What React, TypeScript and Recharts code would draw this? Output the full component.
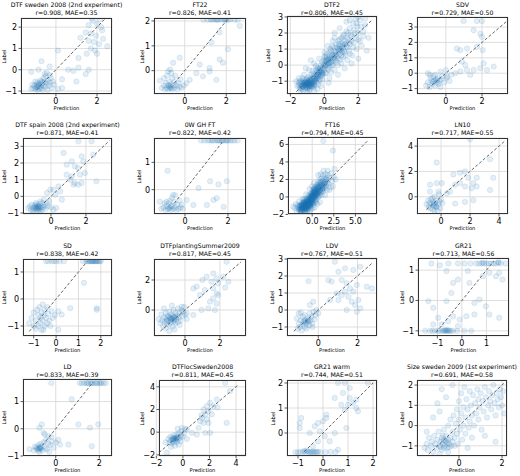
import React from "react"
import {
  ScatterChart,
  Scatter,
  XAxis,
  YAxis,
  CartesianGrid,
  ReferenceLine,
} from "recharts"

type Pt = [number, number]

const titles = [
  "DTF sweden 2008 (2nd experiment)", "FT22", "DTF2", "SDV",
  "DTF spain 2008 (2nd experiment)", "0W GH FT", "FT16", "LN10",
  "SD", "DTFplantingSummer2009", "LDV", "GR21",
  "LD", "DTFlocSweden2008", "GR21 warm", "Size sweden 2009 (1st experiment)",
]

const stats = [
  "r=0.908, MAE=0.35", "r=0.826, MAE=0.41", "r=0.806, MAE=0.45", "r=0.729, MAE=0.50",
  "r=0.871, MAE=0.41", "r=0.822, MAE=0.42", "r=0.794, MAE=0.45", "r=0.717, MAE=0.55",
  "r=0.838, MAE=0.42", "r=0.817, MAE=0.45", "r=0.767, MAE=0.51", "r=0.713, MAE=0.56",
  "r=0.833, MAE=0.39", "r=0.811, MAE=0.45", "r=0.744, MAE=0.51", "r=0.691, MAE=0.58",
]

const xDomains: Pt[] = [
  [-1.7, 2.73], [-1.48, 2.95], [-2.2, 3.1], [-1.6, 3.44],
  [-1.6, 3.49], [-1.44, 2.84], [-2.8, 7.5], [-1.66, 4.62],
  [-1.48, 2.5], [-1.77, 3.49], [-1.6, 3.0], [-1.79, 1.92],
  [-1.5, 2.58], [-1.8, 4.75], [-1.44, 2.16], [-1.95, 2.23],
]

const yDomains: Pt[] = [
  [-1.14, 2.43], [-0.94, 2.12], [-1.8, 3.06], [-1.35, 3.65],
  [-1.06, 3.5], [-0.89, 1.89], [-1.95, 6.85], [-1.36, 4.64],
  [-1.37, 1.48], [-1.73, 3.4], [-1.53, 3.06], [-1.17, 1.4],
  [-1.0, 1.83], [-2.1, 4.6], [-0.92, 2.12], [-1.5, 2.25],
]

const xTicks = [
  [0, 2], [0, 2], [-2, 0, 2], [0, 2],
  [0, 2], [0, 2], [0, 2.5, 5], [0, 2, 4],
  [-1, 0, 1, 2], [0, 2], [0, 2], [-1, 0, 1],
  [0, 2], [-2, 0, 2, 4], [-1, 0, 1, 2], [0, 2],
]

const yTicks = [
  [-1, 0, 1, 2], [0, 1, 2], [-1, 0, 1, 2, 3], [-1, 0, 1, 2, 3],
  [-1, 0, 1, 2, 3], [0, 1], [-2, 0, 2, 4, 6], [0, 2, 4],
  [-1, 0, 1], [0, 2], [-1, 0, 1, 2, 3], [-1, 0, 1],
  [-1, 0, 1], [-2, 0, 2, 4], [0, 1, 2], [-1, 0, 1, 2],
]

// dashed identity line, from..to
const diagonals: Pt[] = [
  [-0.95, 2.4], [-0.5, 2.05], [-1.65, 2.85], [-1.0, 3.4],
  [-0.4, 3.35], [-0.5, 1.8], [-1.6, 6.5], [-1.0, 4.4],
  [-1.2, 1.4], [-1.4, 3.2], [-1.25, 2.75], [-1.05, 1.3],
  [-0.6, 1.72], [-1.8, 4.15], [-0.75, 2.0], [-1.4, 2.1],
]

const dtfSweden2008: Pt[] = [
  [-1.2, -0.9], [-1.1, -0.85], [-1.05, -0.75], [-1, -0.9], [-0.95, -0.7], [-0.9, -0.8], [-0.9, -0.6],
  [-0.85, -0.75], [-0.8, -0.65], [-0.8, -0.9], [-0.75, -0.5], [-0.7, -0.7], [-0.7, -0.85], [-0.65, -0.6],
  [-0.6, -0.75], [-0.6, -0.4], [-0.55, -0.55], [-0.5, -0.8], [-0.5, -0.3], [-0.45, -0.65], [-0.4, -0.5],
  [-0.35, -0.75], [-0.3, -0.6], [-0.25, -0.4], [-0.2, -0.85], [-0.15, -0.55], [-1.15, -0.7], [-1.0, -0.55],
  [-0.9, -0.95], [-0.65, -0.95], [-0.55, -0.2], [-0.4, -0.95], [-0.3, -0.25], [-0.1, -0.7], [0.1, -0.9],
  [-0.85, -0.7], [-0.75, -0.8], [-0.95, -0.85], [-0.7, -0.55],
  [-1.2, -0.1], [-0.85, 0], [-0.7, 0.4], [-0.45, -0.15], [-0.3, 0.15], [0.1, 0.9], [0.3, -0.85],
  [0.3, -0.45], [0.6, 0], [0.85, -0.05], [1.0, -0.55], [1.1, 0.1], [1.1, 0.55], [1.45, -0.2], [1.6, 0],
  [1.2, 1.5], [1.45, 1.75], [1.5, 0.75], [1.6, 2.1], [1.6, 1.35], [1.7, 1.0], [1.75, 2.4], [1.7, 1.7],
  [1.85, 1.3], [1.9, 0.9], [2.0, 2.15], [2.0, 0.75], [2.1, 1.2], [2.15, 2.37], [2.25, 1.85], [2.3, 1.45],
  [2.5, 1.1], [1.95, 1.6], [2.2, 2.0], [1.8, 2.3],
]

const ft22: Pt[] = [
  [0.9, 2.05], [1.1, 2.05], [1.3, 2.07], [1.4, 2.05], [1.5, 2.07], [1.6, 2.05], [1.7, 2.07], [1.8, 2.05],
  [1.9, 2.07], [2.0, 2.05], [2.1, 2.05], [2.2, 2.07], [2.4, 2.05], [2.55, 2.05], [1.25, 2.05], [1.55, 2.05],
  [1.95, 2.05], [2.65, 1.8],
  [1.68, 1.55], [1.28, 1.14], [2.08, 0.86], [1.68, 0.45], [1.84, 0.32], [1.2, 0.11], [1.2, -0.03],
  [-0.24, 0.52], [0.72, 0.25], [0.56, -0.1], [0.88, -0.23], [1.52, -0.37], [0.08, -0.51], [0.24, -0.37],
  [-0.56, 0.32], [-0.8, -0.03],
  [-1.2, -0.4], [-1.1, -0.7], [-1.0, -0.6], [-0.95, -0.75], [-0.9, -0.5], [-0.85, -0.7], [-0.8, -0.6],
  [-0.8, -0.75], [-0.75, -0.45], [-0.7, -0.65], [-0.7, -0.7], [-0.65, -0.55], [-0.6, -0.75], [-0.6, -0.3],
  [-0.55, -0.6], [-0.5, -0.7], [-0.5, -0.45], [-0.45, -0.2], [-0.4, -0.6], [-0.35, -0.75], [-0.3, -0.5],
  [-0.25, -0.65], [-0.2, -0.35], [-0.15, -0.7], [-0.05, -0.6], [-1.0, -0.3], [-0.85, -0.2], [-0.65, -0.1],
  [-0.7, 0.05], [-0.75, -0.6], [-0.65, -0.7],
]

const dtf2: Pt[] = [
  [-1.6, -1.3], [-1.5, -1.1], [-1.45, -1.4], [-1.4, -1.2], [-1.35, -1.0], [-1.3, -1.5], [-1.3, -1.25],
  [-1.25, -1.1], [-1.2, -1.35], [-1.2, -0.9], [-1.15, -1.2], [-1.1, -1.45], [-1.1, -1.05], [-1.05, -1.3],
  [-1.0, -1.15], [-1.0, -0.8], [-0.95, -1.4], [-0.95, -1.0], [-0.9, -1.25], [-0.9, -0.7], [-0.85, -1.1],
  [-0.85, -1.5], [-0.8, -0.9], [-0.8, -1.3], [-0.75, -1.05], [-0.75, -0.6], [-0.7, -1.2], [-0.7, -0.8],
  [-0.65, -1.4], [-0.65, -0.95], [-0.6, -1.1], [-0.6, -0.5], [-0.55, -0.75], [-0.55, -1.25], [-0.5, -0.9],
  [-0.5, -0.3], [-0.45, -1.05], [-0.45, -0.6], [-0.4, -0.4], [-0.4, -0.8], [-0.35, -1.2], [-0.35, -0.2],
  [-0.3, -0.6], [-0.3, -0.95], [-0.25, -0.35], [-0.2, -0.7], [-0.2, 0.0], [-0.15, -0.45], [-0.1, -0.15],
  [-0.1, -0.9], [-0.05, 0.1], [0.0, -0.3], [0.0, 0.3], [0.05, -0.05], [0.1, 0.2], [0.1, -0.5],
  [0.15, 0.45], [0.2, 0.05], [0.2, -0.2], [0.25, 0.3], [0.3, 0.6], [0.3, -0.1], [0.35, 0.15], [0.4, 0.4],
  [0.4, 0.9], [0.45, 0.0], [0.5, 0.25], [0.5, 0.65], [0.55, 1.1], [0.6, 0.4], [0.6, -0.3], [0.65, 0.8],
  [0.7, 0.2], [0.7, 1.3], [0.75, 0.55], [0.8, 1.0], [0.8, 0.0], [0.85, 1.5], [0.9, 0.7], [0.9, 1.2],
  [0.95, 0.35], [1.0, 1.7], [1.0, 0.9], [1.05, 1.35], [1.1, 0.5], [1.1, 1.1], [1.15, 1.9], [1.2, 0.8],
  [1.2, 1.5], [1.3, 1.2], [1.3, 2.1], [1.35, 0.3], [1.4, 1.6], [1.45, 0.9], [1.5, 2.3], [1.5, 1.3],
  [1.6, 1.8], [1.65, 0.6], [1.7, 2.6], [1.75, 1.4], [1.8, 2.0], [1.9, 1.0], [1.95, 2.4], [2.0, 1.6],
  [2.1, 2.8], [2.2, 1.2], [2.3, 2.1], [2.5, 0.9], [1.85, 2.9], [2.0, 3.0], [1.3, 2.7], [0.9, 2.3],
  [0.6, 2.0], [0.5, 1.5], [0.2, 1.2], [0.0, 0.8], [-0.3, 0.4], [-0.6, 0.1], [-0.9, -0.3], [-1.2, -0.6],
  [-1.5, -0.8], [-1.4, -1.6], [-1.0, -1.7], [-0.6, -1.6], [-0.2, -1.3], [0.3, -0.8], [0.8, -0.6],
  [1.2, -0.2], [1.6, 0.1], [2.0, 0.4], [-1.65, -1.0], [-0.9, -1.6], [-0.4, -1.5], [0.25, -1.1],
  [-0.8, 0.3], [-1.1, -0.2], [0.6, 1.7], [1.5, 2.8], [2.4, 2.5], [2.6, 1.7], [-0.5, -0.05], [0.05, 0.55],
  [0.35, 1.0], [-0.25, -0.6], [-0.7, -0.35], [-1.3, -0.8], [-1.25, -1.6], [1.0, 0.1], [0.4, -0.45],
  [-1.15, -1.25], [-1.05, -1.15], [-0.95, -1.2], [-0.85, -1.3], [-1.2, -1.15], [-1.0, -1.35], [-0.9, -1.05],
  [-1.35, -1.3], [-0.75, -1.2], [-1.1, -1.1], [-0.6, -0.85], [-0.4, -0.6], [-0.2, -0.3], [0.0, 0.0],
  [0.15, 0.15], [-0.1, -0.5], [0.3, 0.35], [-0.3, -0.3], [0.6, 0.6], [0.9, 1.0], [1.2, 1.3],
  [-1.5, -1.25], [-1.45, -1.0], [-1.4, -1.45], [-1.3, -1.1], [-1.25, -1.35], [-1.15, -1.0], [-1.1, -1.25],
  [-1.05, -0.9], [-1.0, -1.45], [-0.95, -1.1], [-0.9, -0.9], [-0.85, -1.2], [-0.8, -1.0], [-0.75, -1.35],
  [-0.7, -1.0], [-0.65, -0.7], [-0.6, -1.25], [-0.55, -0.95], [-0.5, -0.6], [-0.45, -0.85], [-0.4, -0.2],
  [-0.35, -0.7], [-0.3, -0.45], [-0.25, -0.9], [-0.2, -0.4], [-0.15, 0.2], [-0.1, -0.6], [-0.05, -0.2],
  [0.0, 0.5], [0.05, -0.5], [0.1, 0.0], [0.15, 0.7], [0.2, 0.35], [0.25, -0.3], [0.3, 0.8], [0.35, 0.45],
  [0.4, 0.2], [0.45, 1.2], [0.5, 0.0], [0.55, 0.5], [0.6, 0.9], [0.65, 0.3], [0.7, 0.7], [0.75, 1.1],
  [0.8, 0.4], [0.85, 0.9], [0.9, 1.6], [0.95, 1.0], [1.0, 0.6], [1.05, 1.2], [1.1, 1.8], [1.15, 0.9],
  [1.2, 1.3], [1.25, 0.6], [1.3, 1.7], [1.35, 1.1], [1.4, 2.0], [1.45, 1.4], [1.5, 0.7], [1.55, 1.9],
  [1.6, 1.5], [1.7, 1.1], [1.75, 2.2], [1.8, 1.7], [1.9, 2.6], [2.0, 2.0], [2.1, 1.5], [2.2, 2.4],
  [2.3, 1.8], [2.4, 2.9],
  [-1.2, -1.25], [-1.1, -1.35], [-1.0, -1.05], [-0.9, -1.35], [-0.8, -1.15], [-0.7, -1.3], [-0.6, -1.0],
  [-1.3, -1.35], [-1.15, -1.1], [-0.95, -1.25], [-0.85, -0.95], [-0.75, -1.1], [-0.65, -1.2], [-0.55, -0.85],
  [-1.05, -1.2], [-0.45, -0.7], [-0.35, -0.5], [-0.25, -0.2], [-0.15, -0.55], [0.1, 0.3], [0.25, 0.1],
  [0.45, 0.6], [0.65, 0.6], [0.85, 1.3], [1.05, 0.8],
]

const sdv: Pt[] = [
  [1.72, 3.39], [2.0, 3.39], [0.98, 3.39], [1.54, 2.79], [1.91, 2.57], [2.0, 2.36], [1.72, 1.71],
  [2.04, 1.5], [0.61, 1.6], [0.8, 1.5], [1.17, 1.6], [0.89, 0.75], [1.07, 0.54], [1.17, 0.21],
  [1.54, 0.21], [1.91, 0.32], [2.28, 0.21], [2.65, 0.43], [2.09, 0.64], [1.35, -0.11], [0.8, 0.11],
  [0.52, 0.0], [0.06, -0.21],
  [-1.1, -0.8], [-1, -0.6], [-0.9, -0.9], [-0.85, -0.3], [-0.8, -0.5], [-0.75, -0.7], [-0.7, -0.2],
  [-0.65, -0.5], [-0.6, -0.8], [-0.55, -0.4], [-0.5, -0.6], [-0.45, -0.3], [-0.4, -0.7], [-0.35, -0.5],
  [-0.3, 0.1], [-0.3, -0.9], [-0.25, -0.4], [-0.2, -0.2], [-0.1, -0.6], [0.0, 0.2], [0.05, -0.3],
  [0.2, -0.5], [-1.0, 0.0], [-0.9, -0.1], [-0.6, -0.1], [0.3, -0.1], [-0.7, -0.55], [-0.5, -0.45],
]

const dtfSpain2008: Pt[] = [
  [1.57, 3.3], [2.32, 3.3], [0.72, 2.6], [1.19, 2.1], [1.75, 2.4], [1.85, 2.1], [2.42, 2.5], [0.9, 1.9],
  [1.36, 1.8], [1.55, 1.7], [1.94, 1.4], [0.9, 1.3], [1.19, 1.2], [1.66, 1.3], [2.6, 0.9], [1.28, 0.7],
  [1.36, 0.8], [1.55, 0.7], [1.75, 0.8], [1.1, 1.0], [0.62, -0.2], [0.53, 0.3], [0.43, 0.6], [0.15, 0.4],
  [-0.04, 0.4], [-0.23, 0.2], [0.25, 0.1],
  [-1.3, -0.7], [-1.2, -0.6], [-1.15, -0.8], [-1.1, -0.5], [-1.0, -0.7], [-1.0, -0.85], [-0.95, -0.6],
  [-0.9, -0.75], [-0.9, -0.5], [-0.85, -0.65], [-0.8, -0.8], [-0.8, -0.55], [-0.75, -0.7], [-0.7, -0.6],
  [-0.7, -0.85], [-0.65, -0.45], [-0.6, -0.7], [-0.6, -0.3], [-0.55, -0.6], [-0.5, -0.8], [-0.5, -0.4],
  [-0.45, -0.65], [-0.4, -0.2], [-0.35, -0.55], [-0.3, -0.75], [-0.25, -0.4], [-0.2, -0.6], [-0.1, -0.3],
  [0.0, -0.65], [0.15, -0.8], [0.3, -0.7], [-0.85, -0.4], [-0.6, -0.9], [-1.05, -0.9], [-0.75, -0.6],
  [-0.65, -0.65], [-0.85, -0.7], [-0.7, -0.75],
]

const ghFt0w: Pt[] = [
  [0.75, 1.8], [0.9, 1.8], [1.05, 1.8], [1.15, 1.8], [1.3, 1.8], [1.4, 1.8], [1.5, 1.8], [1.6, 1.8],
  [1.7, 1.8], [1.8, 1.8], [1.9, 1.8], [2.0, 1.8], [2.1, 1.8], [2.2, 1.8], [2.3, 1.8], [2.45, 1.8],
  [1.25, 1.8], [1.55, 1.8], [1.75, 1.8], [1.95, 1.8],
  [-0.81, 0.69], [1.95, 0.31], [1.17, 0.31], [1.56, 0.19], [0.63, 0.06], [1.48, -0.31], [1.33, -0.38],
  [1.8, -0.63], [1.02, -0.56], [0.39, -0.56], [0.08, -0.38], [-0.55, -0.19], [-0.86, -0.44], [-1.17, -0.44],
  [-1.1, -0.7], [-1.0, -0.65], [-0.9, -0.75], [-0.85, -0.6], [-0.8, -0.7], [-0.75, -0.5], [-0.7, -0.65],
  [-0.65, -0.75], [-0.6, -0.6], [-0.55, -0.7], [-0.5, -0.45], [-0.45, -0.65], [-0.4, -0.75], [-0.35, -0.55],
  [-0.3, -0.7], [-0.25, -0.4], [-0.2, -0.65], [-0.15, -0.55], [-0.1, -0.7], [-0.6, -0.3], [-0.45, -0.2],
  [-0.7, -0.4], [-0.95, -0.5], [-0.75, -0.7], [-0.65, -0.6],
]

const ft16: Pt[] = [
  [-1.6, -1.2], [-1.5, -1.5], [-1.45, -0.9], [-1.4, -1.3], [-1.35, -1.7], [-1.3, -1.0], [-1.25, -1.4],
  [-1.2, -0.7], [-1.2, -1.6], [-1.15, -1.1], [-1.1, -1.3], [-1.05, -0.8], [-1.0, -1.5], [-1.0, -1.0],
  [-0.95, -1.2], [-0.9, -0.5], [-0.9, -1.4], [-0.85, -0.9], [-0.8, -1.1], [-0.8, -1.7], [-0.75, -0.6],
  [-0.7, -1.3], [-0.7, -0.9], [-0.65, -1.0], [-0.6, -0.4], [-0.6, -1.5], [-0.55, -0.8], [-0.5, -1.1],
  [-0.5, -0.2], [-0.45, -0.6], [-0.4, -1.3], [-0.4, -0.9], [-0.35, -0.3], [-0.3, -0.7], [-0.3, 0.1],
  [-0.25, -1.0], [-0.2, -0.5], [-0.2, 0.3], [-0.15, -0.1], [-0.1, -0.8], [-0.1, 0.5], [-0.05, -0.3],
  [0.0, 0.2], [0.0, -0.6], [0.05, 0.8], [0.1, -0.1], [0.1, 0.4], [0.15, -0.9], [0.2, 0.6], [0.2, 0.0],
  [0.25, 1.0], [0.3, 0.3], [0.3, -0.4], [0.35, 0.7], [0.4, 1.2], [0.4, 0.1], [0.45, 0.5], [0.5, 0.9],
  [0.5, -0.2], [0.55, 1.4], [0.6, 0.4], [0.6, 0.7], [0.65, 1.1], [0.7, 0.0], [0.7, 1.6], [0.75, 0.6],
  [0.8, 1.0], [0.8, 1.9], [0.85, 0.3], [0.9, 1.3], [0.9, 0.8], [0.95, 1.7], [1.0, 0.5], [1.0, 1.1],
  [1.05, 2.1], [1.1, 1.4], [1.1, 0.2], [1.15, 0.9], [1.2, 1.8], [1.2, 1.2], [1.25, 2.4], [1.3, 0.7],
  [1.35, 1.5], [1.4, 2.0], [1.45, 1.0], [1.5, 1.7], [1.5, 2.6], [1.6, 1.3], [1.65, 2.2], [1.7, 0.8],
  [1.75, 1.9], [1.8, 2.5], [1.9, 1.5], [2.0, 2.2], [2.1, 1.1], [2.2, 2.7], [2.3, 1.8], [2.5, 2.3],
  [2.7, 2.0], [2.6, 3.2], [1.3, 3.0], [0.7, 2.5], [0.2, 1.6], [-0.3, 0.9], [-0.7, 0.3], [-1.1, -0.2],
  [-1.5, -0.5], [-0.3, -1.6], [0.3, -1.2], [0.9, -0.6], [1.5, 0.2], [2.0, 0.8], [1.28, 6.4], [2.4, 5.3],
  [-1.7, -1.0], [-0.6, -1.8], [0.6, -0.8], [-0.95, -0.3], [-0.45, 0.2], [0.05, -1.3], [1.8, 3.0],
  [2.4, 1.2], [-1.3, -1.9], [-0.8, -0.2], [-0.15, -1.4], [0.45, -0.6], [1.0, 2.6], [0.0, 1.2],
  [-2.0, -1.3], [-1.9, -0.8], [-1.8, -1.6], [-2.2, -1.1],
  [-1.0, -1.2], [-0.9, -1.0], [-0.8, -0.8], [-0.7, -1.1], [-0.6, -0.9], [-0.5, -0.7], [-0.4, -0.5],
  [-0.3, -0.3], [-0.2, -0.1], [-0.1, 0.1], [0.0, 0.3], [0.1, 0.5], [0.2, 0.7], [0.3, 0.9], [0.4, 0.6],
  [-1.2, -1.2], [-1.1, -0.9], [-0.9, -1.2], [-0.7, -0.7], [-0.5, -0.9], [-0.3, -0.5], [-0.1, -0.3],
  [0.1, 0.1], [0.3, 0.5], [0.5, 0.3], [-0.6, -1.2], [-0.8, -1.4], [-1.3, -1.3], [-1.4, -1.1],
  [-0.2, -0.8], [0.0, -0.1], [0.2, 0.3], [0.6, 1.0], [0.8, 0.7], [1.0, 1.4], [1.2, 1.0], [1.4, 1.6],
  [-0.9, -0.7], [-0.65, -0.45], [-0.35, -0.15], [-0.05, 0.05], [0.25, 0.45], [-1.05, -1.05], [-0.75, -1.25],
  [-1.3, -1.5], [-1.2, -1.0], [-1.1, -1.5], [-1.0, -1.3], [-0.9, -0.8], [-0.85, -1.6], [-0.75, -1.0],
  [-0.7, -0.5], [-0.65, -1.3], [-0.6, -0.7], [-0.55, -1.0], [-0.5, -0.4], [-0.45, -1.2], [-0.4, -0.7],
  [-0.35, -1.0], [-0.3, -0.1], [-0.25, -0.6], [-0.2, -0.9], [-0.15, -0.3], [-0.1, 0.2], [-0.05, -0.6],
  [0.0, 0.0], [0.05, 0.4], [0.1, -0.4], [0.15, 0.2], [0.2, 0.9], [0.25, 0.0], [0.3, 0.6], [0.35, 0.2],
  [0.4, 0.9], [0.45, 0.3], [0.5, 0.6], [0.55, 0.1], [0.6, 1.2], [0.65, 0.5], [0.7, 0.9], [0.75, 1.3],
  [0.8, 0.5], [0.85, 1.1], [0.9, 1.6], [1.0, 0.8], [1.1, 1.7], [1.2, 0.9], [1.3, 1.4], [1.4, 1.2],
  [1.5, 1.5], [1.6, 2.0], [1.7, 1.6], [-1.5, -1.0], [-1.4, -1.5], [-1.6, -1.4], [-1.25, -0.9],
  [-1.05, -0.6], [-0.95, -1.5], [-0.5, -1.4], [-0.2, -1.1], [0.1, -0.7], [0.4, -0.3], [0.8, 0.1], [1.1, 0.6],
  [-1.15, -1.35], [-1.05, -1.15], [-0.95, -0.95], [-0.85, -1.25], [-0.75, -0.85], [-0.65, -1.15],
  [-0.55, -0.6], [-0.45, -0.95], [-0.35, -0.45], [-0.25, -0.8], [-0.15, -0.2], [-0.05, -0.45], [0.05, 0.15],
  [0.15, -0.25], [0.25, 0.25], [0.35, -0.05], [0.45, 0.75], [0.55, 0.35], [-1.25, -1.05], [-0.95, -0.65],
  [-0.65, -0.25], [-0.35, -0.85], [-0.05, -0.75], [0.25, -0.6], [-1.1, -1.2], [-0.8, -1.0], [-0.5, -0.8],
  [-0.2, -0.6], [0.1, -0.2], [0.4, 0.4], [-0.9, -1.1], [-0.6, -0.6], [-0.3, -0.4], [0.0, -0.2], [0.3, 0.1],
  [-0.7, -0.9], [-0.4, -1.0], [-1.0, -0.8], [0.6, 0.5], [0.7, 1.2],
]

const ln10: Pt[] = [
  [2.0, 4.54], [-0.3, 2.7], [3.38, 2.97], [1.31, 1.9], [1.65, 2.0], [0.85, 1.76], [1.88, 1.5], [2.46, 1.5],
  [3.6, 1.5], [2.23, 1.08], [1.31, 1.08], [0.97, 0.95], [1.65, 0.81], [2.11, 0.68], [2.46, 0.81],
  [3.38, 0.54], [0.62, 0.41], [0.39, 0.27], [2.23, -0.27], [1.65, -0.41], [0.97, -0.54], [-0.76, 0.95],
  [-0.3, 1.08], [-0.76, 0.41], [-0.18, 0.41], [0.05, 1.08],
  [-1.0, -0.6], [-0.9, -0.3], [-0.85, -0.8], [-0.8, -0.5], [-0.75, -0.9], [-0.7, -0.2], [-0.65, -0.6],
  [-0.6, -1.0], [-0.55, -0.4], [-0.5, -0.7], [-0.45, 0.0], [-0.4, -0.5], [-0.35, -0.8], [-0.3, -0.3],
  [-0.25, -1.1], [-0.2, -0.6], [-0.15, 0.2], [-0.1, -0.4], [-0.05, -0.9], [0.0, -0.2], [-0.6, -0.1],
  [-0.45, -1.1], [0.1, -0.5], [-0.3, -0.8], [-0.5, -0.55], [-0.4, -0.7],
]

const sd: Pt[] = [
  [-0.45, 1.4], [-0.35, 1.4], [-0.2, 1.4], [-0.1, 1.4], [0.0, 1.4], [0.15, 1.4], [0.35, 1.4], [1.2, 1.4],
  [1.35, 1.4], [1.45, 1.4], [1.5, 1.4], [1.55, 1.4], [1.6, 1.4], [1.65, 1.4], [1.7, 1.4], [1.75, 1.4],
  [1.8, 1.4], [1.85, 1.4], [1.9, 1.4], [1.95, 1.4], [2.0, 1.4], [1.4, 1.4], [1.62, 1.4], [1.78, 1.4],
  [1.25, 0.6], [1.82, -0.34], [1.82, -0.4], [0.63, -0.34], [0.25, -0.58], [0.1, -1.14], [-0.57, -1.14],
  [-1.1, -0.7], [-1.0, -0.5], [-1.0, -1.0], [-0.9, -0.8], [-0.85, -0.4], [-0.8, -0.6], [-0.8, -1.0],
  [-0.75, -0.3], [-0.7, -0.7], [-0.7, -0.9], [-0.65, -0.5], [-0.6, -0.8], [-0.6, -0.2], [-0.55, -0.6],
  [-0.5, -1.0], [-0.5, -0.4], [-0.45, -0.7], [-0.4, -0.3], [-0.4, -0.9], [-0.35, -0.55], [-0.3, -0.8],
  [-0.25, -1.0], [-0.2, -0.45], [-0.15, -0.7], [-0.05, -0.6], [0.1, -0.45], [-1.2, -0.9], [-0.9, -1.1],
  [-0.65, -1.15],
]

const dtfPlantingSummer2009: Pt[] = [
  [2.38, 3.22], [1.62, 2.44], [1.24, 2.22], [1.81, 2.11], [2.19, 2.22], [2.48, 1.89], [1.52, 1.89],
  [1.9, 1.78], [1.62, 1.44], [1.14, 1.33], [1.81, 1.11], [1.9, 1.0], [1.62, 0.78], [1.43, 0.56],
  [1.81, 0.44], [0.86, 1.0], [0.67, 1.56], [0.48, 1.44], [1.33, 0.11], [0.95, 0.0], [1.71, 0.0],
  [0.48, -0.33], [0.1, -0.22], [-0.19, 0.22], [2.3, 1.5], [1.0, 2.0],
  [-1.5, -0.6], [-1.4, -0.9], [-1.35, -0.3], [-1.3, -0.7], [-1.25, -1.1], [-1.2, -0.5], [-1.15, -0.8],
  [-1.1, -0.2], [-1.1, -1.2], [-1.05, -0.6], [-1.0, -0.9], [-1.0, -0.4], [-0.95, -0.7], [-0.9, -0.1],
  [-0.9, -1.0], [-0.85, -0.5], [-0.8, -0.8], [-0.8, -0.3], [-0.75, -0.6], [-0.7, -1.1], [-0.7, -0.4],
  [-0.65, 0.0], [-0.65, -0.7], [-0.6, -0.5], [-0.55, -0.9], [-0.55, -0.2], [-0.5, -0.6], [-0.45, -0.35],
  [-0.4, -0.8], [-0.4, 0.1], [-0.35, -0.5], [-0.3, -0.2], [-0.25, -0.7], [-0.2, 0.0], [-0.15, -0.4],
  [-0.1, -0.1], [-0.05, 0.2], [0.0, -0.3], [-0.9, -1.4], [-0.6, -1.3], [-0.3, -1.0], [0.1, -0.6],
  [-1.2, 0.1], [-0.75, 0.3], [-0.85, -0.55], [-0.7, -0.6], [-0.95, -0.45], [-0.6, -0.75], [-1.05, -0.75],
  [-0.5, -0.45], [-0.8, -0.65], [-0.65, -0.45],
]

const ldv: Pt[] = [
  [0.85, 2.84], [1.37, 2.45], [1.03, 2.25], [1.79, 2.35], [2.14, 2.55], [0.51, 1.76], [0.68, 1.67],
  [1.2, 1.76], [1.45, 1.57], [1.97, 1.47], [1.62, 1.27], [1.37, 1.08], [1.79, 1.08], [2.48, 1.37],
  [2.74, 1.27], [0.94, 0.98], [1.2, 0.88], [1.54, 0.78], [1.03, 0.59], [0.6, 0.59], [1.71, 0.49],
  [2.05, 0.59], [1.88, 0.29], [2.14, 0.1], [1.45, 0.0], [1.97, -0.1], [-0.5, 1.7], [-0.43, 0.29],
  [-0.26, 0.49],
  [-1.1, -0.5], [-1.0, -0.8], [-1.0, -0.2], [-0.95, -1.0], [-0.9, -0.6], [-0.85, -1.2], [-0.8, -0.4],
  [-0.8, -0.85], [-0.75, -0.7], [-0.7, -1.0], [-0.7, -0.3], [-0.65, -0.6], [-0.6, -0.8], [-0.6, -1.1],
  [-0.55, -0.5], [-0.5, -0.7], [-0.45, -0.9], [-0.45, -0.2], [-0.4, -0.6], [-0.35, -0.4], [-0.3, -0.8],
  [-0.25, -0.1], [-0.2, -0.55], [-0.15, -0.3], [-0.1, 0.0], [0.0, -0.2], [-0.65, -0.75], [-0.55, -0.65],
  [-0.9, -0.15], [-1.05, -1.1], [-0.3, -1.0], [-0.5, -0.6], [-0.7, -0.65],
]

const gr21: Pt[] = [
  [-1.24, 1.22], [-0.55, 1.22], [-0.16, 1.22], [0.11, 1.22], [0.35, 1.22], [0.58, 1.22], [0.7, 1.22],
  [0.8, 1.22], [0.9, 1.22], [1.0, 1.22], [1.1, 1.22], [1.2, 1.22], [1.3, 1.22], [1.4, 1.22], [1.48, 1.25],
  [1.5, 1.25], [1.59, 1.22], [1.79, 1.22], [0.85, 1.25], [-0.9, 1.16], [-0.63, 0.97], [0.24, 0.97],
  [-0.36, 0.58], [-0.16, 0.69], [0.85, 0.8], [1.12, 0.91], [1.39, 0.8], [0.31, 0.58], [-0.43, 0.25],
  [-0.63, -0.02], [-1.37, -0.02], [0.71, 0.03], [0.51, -0.08], [0.98, -0.19], [1.12, -0.46], [0.51, -0.46],
  [0.18, -0.52], [-0.09, -0.63], [-0.36, -0.52], [-0.56, -0.68], [-0.97, -0.57], [-1.17, -0.24],
  [-0.83, -0.79], [-1.17, -0.79], [-0.16, -0.85], [1.52, -0.57], [1.52, 0.91], [1.65, 0.69],
  [-1.5, -1.0], [-1.3, -1.0], [-1.2, -1.0], [-1.1, -1.0], [-0.97, -1.0], [-0.9, -1.0], [-0.8, -1.0],
  [-0.75, -1.0], [-0.7, -1.0], [-0.65, -1.0], [-0.6, -1.0], [-0.55, -1.0], [-0.5, -1.0], [-0.45, -1.0],
  [-0.36, -1.0], [-0.2, -1.0], [0.1, -1.0], [0.38, -1.0], [-0.68, -0.97], [-0.58, -0.97],
]

const ld: Pt[] = [
  [-0.2, 1.68], [1.1, 1.68], [1.2, 1.68], [1.3, 1.68], [1.4, 1.68], [1.5, 1.68], [1.6, 1.68], [1.7, 1.68],
  [1.8, 1.68], [1.9, 1.68], [2.0, 1.68], [2.1, 1.68], [2.2, 1.68], [2.3, 1.68], [1.45, 1.68], [1.65, 1.68],
  [1.85, 1.68], [2.05, 1.68],
  [0.73, 1.09], [1.04, 0.16], [1.57, 0.04], [1.95, 0.16], [1.65, -0.64], [0.58, -0.58], [-0.64, 0.16],
  [-0.75, 0.04], [-0.56, -0.15], [-0.34, -0.27], [-0.18, -0.46], [0.12, -0.4], [0.2, -0.58],
  [-1.2, -0.75], [-1.0, -0.8], [-0.95, -0.65], [-0.9, -0.7], [-0.85, -0.75], [-0.8, -0.6], [-0.8, -0.8],
  [-0.75, -0.7], [-0.7, -0.55], [-0.7, -0.75], [-0.65, -0.65], [-0.6, -0.8], [-0.55, -0.5], [-0.5, -0.7],
  [-0.45, -0.4], [-0.4, -0.75], [-0.35, -0.55], [-0.3, -0.85], [-0.25, -0.6], [-0.2, -0.3], [-0.1, -0.7],
  [0.0, -0.5], [-0.5, -0.2], [-0.75, -0.85], [-0.68, -0.72], [-0.72, -0.68], [-0.78, -0.72],
]

const dtfLocSweden2008: Pt[] = [
  [3.18, 4.35], [3.55, 3.62], [2.55, 2.88], [2.05, 2.59], [1.8, 2.29], [2.3, 2.29], [1.55, 2.0],
  [1.93, 1.85], [1.68, 1.56], [2.18, 1.56], [1.43, 1.26], [1.8, 1.12], [1.3, 0.97], [1.55, 0.82],
  [1.93, 0.82], [3.3, 0.82], [1.18, 0.38], [1.68, -0.06], [2.05, -0.06], [0.68, -0.06], [1.05, -0.21],
  [0.3, 0.24], [-0.08, 0.38], [-1.2, -1.82], [1.4, 1.5], [2.6, 2.2],
  [-1.1, -0.6], [-1.0, -0.9], [-0.95, -0.4], [-0.9, -0.7], [-0.85, -1.0], [-0.8, -0.5], [-0.75, -0.8],
  [-0.7, -0.3], [-0.7, -0.6], [-0.65, -0.9], [-0.6, -0.5], [-0.55, -0.7], [-0.5, -0.2], [-0.5, -0.55],
  [-0.45, -0.85], [-0.4, -0.4], [-0.35, -0.6], [-0.3, -0.1], [-0.25, -0.5], [-0.2, -0.8], [-0.15, -0.3],
  [-0.1, 0.1], [0.0, -0.4], [0.1, -0.1], [0.2, 0.3], [-0.6, -1.2], [-0.9, -1.3], [-1.3, -0.9], [-0.3, -1.1],
  [0.3, -0.6], [-0.65, -0.55], [-0.55, -0.6], [-0.75, -0.65], [-0.45, -0.5], [-0.4, 0.3],
]

const gr21Warm: Pt[] = [
  [-1.1, -0.77], [-1.0, -0.77], [-0.9, -0.77], [-0.8, -0.75], [-0.7, -0.77], [-0.6, -0.75], [-0.55, -0.77],
  [-0.5, -0.75], [-0.45, -0.77], [-0.4, -0.75], [-0.35, -0.77], [-0.3, -0.75], [-0.25, -0.77],
  [-0.2, -0.75], [-0.1, -0.77], [0.1, -0.77], [0.3, -0.75], [0.5, -0.77], [-0.65, -0.7], [-0.75, -0.72],
  [0.6, 2.0], [0.87, 2.0], [1.8, 2.0], [1.07, 1.8], [0.8, 1.6], [0.47, 1.4], [1.07, 1.4], [1.33, 1.33],
  [1.2, 1.2], [1.0, 1.13], [1.33, 1.0], [1.4, 0.87], [0.73, 1.13], [0.87, 0.93], [0.13, 0.73],
  [0.13, 0.6], [0.0, 0.47], [-0.2, 0.4], [-0.33, 0.27], [-0.53, 0.0], [-0.93, 0.2], [-0.93, 0.4],
  [-0.87, 0.6], [-0.13, 0.07], [0.07, -0.13], [-0.2, -0.33], [-0.4, -0.53], [0.27, -0.33], [0.47, 0.0],
  [0.6, -0.67], [0.93, 0.2],
]

const sizeSweden2009: Pt[] = [
  [-1.6, -1.1], [-1.5, -0.9], [-1.45, -1.2], [-1.4, -0.6], [-1.3, -1.0], [-1.25, -0.8], [-1.2, -1.3],
  [-1.15, -0.5], [-1.1, -0.9], [-1.05, -1.1], [-1.0, -0.7], [-0.95, -0.3], [-0.9, -1.0], [-0.85, -0.8],
  [-0.8, -0.6], [-0.8, -1.2], [-0.75, -0.9], [-0.7, -0.7], [-0.7, -0.2], [-0.65, -1.0], [-0.6, -0.8],
  [-0.6, -0.5], [-0.55, -1.1], [-0.5, -0.7], [-0.5, 0.0], [-0.45, -0.9], [-0.4, -0.6], [-0.4, 0.3],
  [-0.35, -1.0], [-0.3, -0.8], [-0.3, -0.3], [-0.25, 0.5], [-0.2, -0.6], [-0.2, -1.0], [-0.15, 0.1],
  [-0.1, -0.4], [-0.1, 0.8], [-0.05, -0.9], [0.0, 0.3], [0.0, 1.2], [0.05, -0.2], [0.1, 0.6], [0.1, 1.6],
  [0.15, -0.7], [0.2, 0.0], [0.2, 0.9], [0.25, 1.9], [0.3, 0.4], [0.3, -0.4], [0.35, 1.3], [0.4, 0.8],
  [0.45, -0.1], [0.5, 1.7], [0.5, 0.2], [0.55, 1.0], [0.6, 0.5], [0.6, -0.6], [0.65, 1.5], [0.7, 0.0],
  [0.75, 1.1], [0.8, 0.6], [0.85, 1.8], [0.9, 1.3], [0.9, 0.3], [0.95, 0.9], [1.0, 1.6], [1.05, -0.2],
  [1.1, 1.2], [1.15, 0.7], [1.2, 1.9], [1.25, 1.4], [1.3, 0.4], [1.35, 1.0], [1.4, 1.7], [1.45, 1.2],
  [1.5, 0.8], [1.55, 1.5], [1.6, 2.0], [1.65, 1.1], [1.7, 0.5], [1.75, 1.6], [1.8, 1.3], [1.85, 0.9],
  [1.9, 1.8], [1.95, 1.4], [2.0, 1.0], [2.05, 1.7], [2.1, 0.6], [1.7, -0.8], [-1.2, 0.4], [-0.9, 0.7],
  [-1.0, 1.1], [-0.6, 1.4], [-0.3, 2.0], [-0.8, 1.8], [-0.5, -1.3], [-0.9, -1.4], [0.4, -1.1],
  [1.2, -0.5], [-1.5, -0.3], [-0.7, -1.1], [-0.55, -0.85], [-0.65, -0.75], [-0.45, -1.05], [-0.75, -0.5],
  [-0.85, -1.05],
]

const series: Pt[][] = [
  dtfSweden2008, ft22, dtf2, sdv,
  dtfSpain2008, ghFt0w, ft16, ln10,
  sd, dtfPlantingSummer2009, ldv, gr21,
  ld, dtfLocSweden2008, gr21Warm, sizeSweden2009,
]

// layout: plot box [left, top, right, bottom] in page pixels, and x of the "Label" text
const boxes = [
  [21, 18, 112, 94], [154, 18, 246, 94], [287, 16, 377, 94], [417, 17, 508, 94],
  [23, 138, 112, 214], [154, 138, 246, 214], [288, 137, 377, 214], [417, 138, 508, 214],
  [23, 259, 112, 336], [154, 259, 246, 336], [287, 258, 377, 336], [418, 258, 509, 336],
  [23, 379, 112, 456], [159, 380, 246, 456], [287, 380, 377, 456], [417, 380, 507, 456],
]
const rowTops = [18, 138, 259, 380]
const labelX = [4, 142, 268, 405, 4, 139, 272, 402, 4, 139, 272, 402, 4, 142, 273, 402]

const FONT = "'DejaVu Sans', sans-serif"
const BLUE = "#1f77b4"

function fmt(v: number, dec: number) {
  return v.toFixed(dec).replace("-", "\u2212")
}

function Dot(props: any) {
  const { cx, cy } = props
  if (cx == null || cy == null) return null
  return (
    <circle
      cx={cx}
      cy={cy}
      r={2.7}
      fill={BLUE}
      fillOpacity={0.12}
      stroke={BLUE}
      strokeOpacity={0.14}
      strokeWidth={0.8}
    />
  )
}

function Panel({ i }: { i: number }) {
  const [l, t, r, b] = boxes[i]
  const w = r - l
  const h = b - t
  const yw = 30
  const xh = 20
  const pad = 4
  const data = series[i].map(([x, y]) => ({ x, y }))
  const [d0, d1] = diagonals[i]
  const dec = i === 6 ? 1 : 0
  const tickStyle = { fontSize: 8, fill: "#000", fontFamily: FONT }
  return (
    <>
      <div
        style={{
          position: "absolute",
          left: l - 40,
          width: w + 80,
          top: rowTops[Math.floor(i / 4)] - 17.5,
          textAlign: "center",
          fontSize: 6.2,
          lineHeight: "8.5px",
          fontFamily: FONT,
          whiteSpace: "nowrap",
        }}
      >
        {titles[i]}
        <br />
        {stats[i]}
      </div>
      <div style={{ position: "absolute", left: l - yw, top: t - pad }}>
        <ScatterChart
          width={w + yw + pad}
          height={h + pad + xh}
          margin={{ top: pad, right: pad, bottom: 0, left: 0 }}
        >
          <CartesianGrid stroke="#d6d6d6" strokeWidth={0.8} />
          <XAxis
            type="number"
            dataKey="x"
            domain={xDomains[i]}
            ticks={xTicks[i]}
            interval={0}
            allowDataOverflow
            height={xh}
            tickSize={2.5}
            tickMargin={1.5}
            axisLine={false}
            tickLine={{ stroke: "#333", strokeWidth: 0.8 }}
            tick={tickStyle}
            tickFormatter={(v: number) => fmt(v, dec)}
          />
          <YAxis
            type="number"
            dataKey="y"
            domain={yDomains[i]}
            ticks={yTicks[i]}
            interval={0}
            allowDataOverflow
            width={yw}
            tickSize={2.5}
            tickMargin={1.5}
            axisLine={false}
            tickLine={{ stroke: "#333", strokeWidth: 0.8 }}
            tick={tickStyle}
            tickFormatter={(v: number) => fmt(v, 0)}
          />
          <Scatter data={data} shape={<Dot />} isAnimationActive={false} />
          <ReferenceLine
            segment={[{ x: d0, y: d0 }, { x: d1, y: d1 }]}
            stroke="#555"
            strokeWidth={0.9}
            strokeDasharray="3 2"
          />
        </ScatterChart>
      </div>
      <div
        style={{
          position: "absolute",
          left: l,
          top: t,
          width: w,
          height: h,
          border: "0.8px solid #333",
          boxSizing: "border-box",
          pointerEvents: "none",
        }}
      />
      <div
        style={{
          position: "absolute",
          left: l,
          width: w,
          top: b + 11,
          textAlign: "center",
          fontSize: 5.2,
          lineHeight: "7px",
          fontFamily: FONT,
        }}
      >
        Prediction
      </div>
      <div
        style={{
          position: "absolute",
          left: labelX[i] - 15,
          width: 30,
          top: (t + b) / 2 - 3.5,
          textAlign: "center",
          fontSize: 5.2,
          lineHeight: "7px",
          fontFamily: FONT,
          transform: "rotate(-90deg)",
        }}
      >
        Label
      </div>
    </>
  )
}

export default function App() {
  return (
    <div style={{ position: "relative", width: 520, height: 476, background: "#fff", overflow: "hidden" }}>
      <style>{"body{margin:0}"}</style>
      {series.map((_, i) => (
        <Panel key={i} i={i} />
      ))}
    </div>
  )
}
